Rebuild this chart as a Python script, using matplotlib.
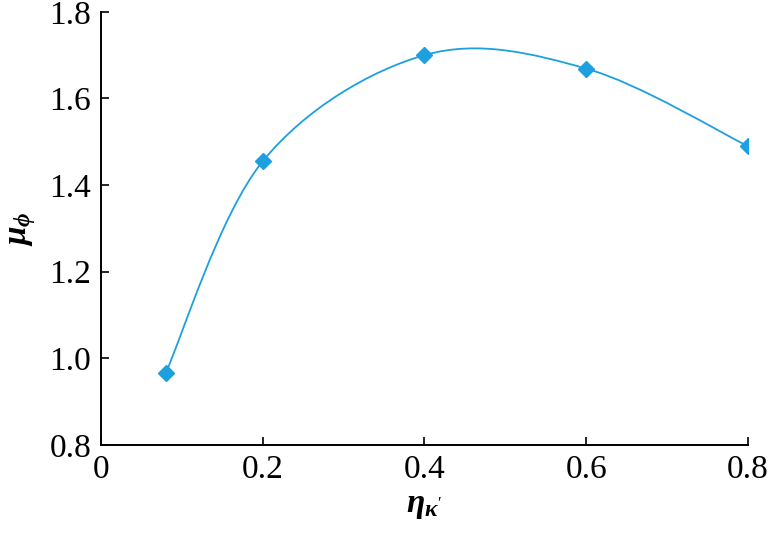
import matplotlib
matplotlib.use('Agg')
import matplotlib.pyplot as plt
from matplotlib.path import Path
from matplotlib.patches import PathPatch
import numpy as np

# 数据
x = [0.08, 0.2, 0.4, 0.6, 0.8]
y = [0.966, 1.455, 1.700, 1.669, 1.490]
xticks = [0, 0.2, 0.4, 0.6, 0.8]
xticklabels = ['0', '0.2', '0.4', '0.6', '0.8']
yticks = [0.8, 1.0, 1.2, 1.4, 1.6, 1.8]
yticklabels = ['0.8', '1.0', '1.2', '1.4', '1.6', '1.8']

color = '#1CA0DF'

plt.rcParams['font.family'] = ['Liberation Serif', 'DejaVu Serif']
plt.rcParams['mathtext.fontset'] = 'custom'
plt.rcParams['mathtext.it'] = 'Liberation Serif:italic:bold'
plt.rcParams['mathtext.rm'] = 'Liberation Serif'

fig = plt.figure(figsize=(7.71, 5.38), dpi=100)
ax = fig.add_axes([0.131, 0.173, 0.839, 0.805])

# 平滑曲线 (Bezier, 类似Excel平滑线)
px = np.array(x)
py = np.array(y)
verts = [(px[0], py[0])]
codes = [Path.MOVETO]
n = len(px)
for i in range(n - 1):
    p0 = np.array([px[max(i - 1, 0)], py[max(i - 1, 0)]])
    p1 = np.array([px[i], py[i]])
    p2 = np.array([px[i + 1], py[i + 1]])
    p3 = np.array([px[min(i + 2, n - 1)], py[min(i + 2, n - 1)]])
    c1 = p1 + (p2 - p0) / 6
    c2 = p2 - (p3 - p1) / 6
    verts += [tuple(c1), tuple(c2), tuple(p2)]
    codes += [Path.CURVE4] * 3
ax.add_patch(PathPatch(Path(verts, codes), facecolor='none', edgecolor=color, lw=1.3))

ax.plot(x, y, linestyle='none', marker='D', markersize=8, color=color)

ax.set_xlim(0, 0.8)
ax.set_ylim(0.8, 1.8)
ax.set_xticks(xticks)
ax.set_xticklabels(xticklabels)
ax.set_yticks(yticks)
ax.set_yticklabels(yticklabels)
ax.tick_params(direction='in', length=6, width=1.2, labelsize=24, pad=7)

for s in ['top', 'right']:
    ax.spines[s].set_visible(False)
for s in ['left', 'bottom']:
    ax.spines[s].set_linewidth(1.4)

ax.set_xlabel(r"$\eta_{\kappa'}$", fontsize=24, labelpad=4)
ax.set_ylabel(r"$\mu_{\phi}$", fontsize=24, labelpad=8)

fig.savefig('out.png', dpi=100)
